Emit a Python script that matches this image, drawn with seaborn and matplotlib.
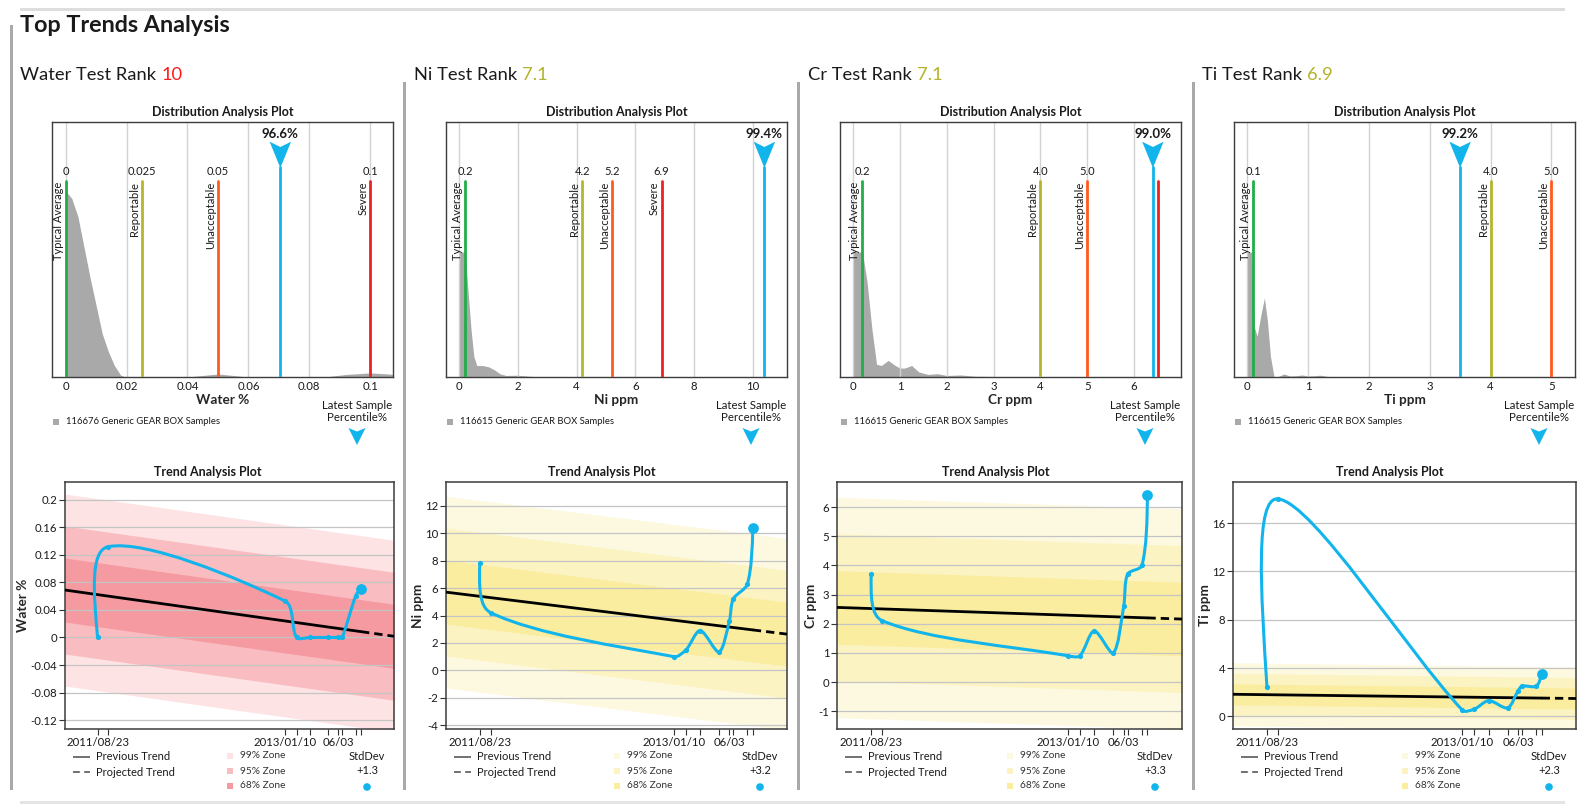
import numpy as np
import pandas as pd
import matplotlib
matplotlib.use("Agg")
import matplotlib.pyplot as plt
import matplotlib.dates as mdates
import matplotlib.transforms as mtransforms
from matplotlib.patches import Polygon, Rectangle, PathPatch, Circle
from matplotlib.path import Path
import seaborn as sns

# ------------------------------------------------------------------ data
sample_dates = ["2011-08-23", "2011-09-21", "2013-01-10", "2013-02-10", "2013-03-19",
                "2013-05-07", "2013-06-03", "2013-06-13", "2013-07-20", "2013-08-03"]
date_tick_labels = ["2011/08/23", "", "2013/01/10", "", "", "", "06/03", "", "", ""]
trend_days_before = 88
trend_days_after = 89

test_names = ["Water", "Ni", "Cr", "Ti"]
test_units = ["Water %", "Ni ppm", "Cr ppm", "Ti ppm"]
test_ranks = ["10", "7.1", "7.1", "6.9"]
sample_counts = ["116676", "116615", "116615", "116615"]
latest_percentiles = ["96.6%", "99.4%", "99.0%", "99.2%"]
latest_stddevs = ["+1.3", "+3.2", "+3.3", "+2.3"]

# sample history (trend plot)
water_values = [0.0, 0.132, 0.053, 0.0, 0.0, 0.0, 0.0, 0.0, 0.061, 0.0705]
ni_values = [7.8, 4.2, 1.0, 1.5, 2.9, 1.35, 3.6, 5.2, 6.3, 10.4]
cr_values = [3.7, 2.1, 0.9, 0.9, 1.75, 1.0, 2.6, 3.7, 4.0, 6.4]
ti_values = [2.4, 18.0, 0.5, 0.6, 1.3, 0.7, 2.1, 2.5, 2.5, 3.5]

# trend value at first / last sample date and zone standard deviation
water_trend = [0.0623, 0.0085]
ni_trend = [5.40, 2.95]
cr_trend = [2.52, 2.20]
ti_trend = [1.79, 1.51]
water_sd, ni_sd, cr_sd, ti_sd = 0.0465, 2.33, 1.26, 0.87

# limits (distribution plot)
water_thr_values = [0, 0.025, 0.05, 0.1]
water_thr_kinds = ["typical", "reportable", "unacceptable", "severe"]
water_thr_labels = ["Typical Average", "Reportable", "Unacceptable", "Severe"]
water_thr_texts = ["0", "0.025", "0.05", "0.1"]

ni_thr_values = [0.2, 4.2, 5.2, 6.9]
ni_thr_kinds = ["typical", "reportable", "unacceptable", "severe"]
ni_thr_labels = ["Typical Average", "Reportable", "Unacceptable", "Severe"]
ni_thr_texts = ["0.2", "4.2", "5.2", "6.9"]

cr_thr_values = [0.2, 4.0, 5.0, 6.5]
cr_thr_kinds = ["typical", "reportable", "unacceptable", "severe"]
cr_thr_labels = ["Typical Average", "Reportable", "Unacceptable", ""]
cr_thr_texts = ["0.2", "4.0", "5.0", ""]

ti_thr_values = [0.1, 4.0, 5.0]
ti_thr_kinds = ["typical", "reportable", "unacceptable"]
ti_thr_labels = ["Typical Average", "Reportable", "Unacceptable"]
ti_thr_texts = ["0.1", "4.0", "5.0"]

# population density profiles (relative height)
water_dens_x = [0, 0.002, 0.004, 0.006, 0.008, 0.010, 0.012, 0.014, 0.016, 0.018, 0.0195,
                0.040, 0.045, 0.050, 0.055, 0.060, 0.085, 0.092, 0.100, 0.106, 0.1075]
water_dens_h = [0.73, 0.70, 0.63, 0.51, 0.39, 0.28, 0.17, 0.10, 0.045, 0.008, 0,
                0, 0.006, 0.012, 0.006, 0, 0, 0.010, 0.016, 0.012, 0.010]
ni_dens_x = [0, 0.2, 0.3, 0.4, 0.5, 0.6, 0.8, 1.0, 1.2, 1.4, 1.6, 2.0, 2.4, 2.8]
ni_dens_h = [0.49, 0.49, 0.34, 0.19, 0.08, 0.045, 0.045, 0.04, 0.028, 0.012, 0.006, 0.007, 0.003, 0]
cr_dens_x = [0, 0.2, 0.3, 0.4, 0.5, 0.6, 0.75, 0.9, 1.0, 1.1, 1.25, 1.4, 1.6, 1.8, 2.0, 2.3, 2.6, 3.0, 3.5]
cr_dens_h = [0.49, 0.49, 0.37, 0.19, 0.05, 0.045, 0.065, 0.045, 0.035, 0.035, 0.045, 0.02,
             0.01, 0.013, 0.006, 0.008, 0.003, 0.002, 0]
ti_dens_x = [0, 0.07, 0.11, 0.16, 0.22, 0.28, 0.33, 0.38, 0.44, 0.52, 0.6, 0.7, 0.8, 0.9,
             1.0, 1.1, 1.2, 1.3, 1.4]
ti_dens_h = [0.49, 0.49, 0.2, 0.16, 0.24, 0.31, 0.22, 0.08, 0.0, 0.003, 0.012, 0.004,
             0.005, 0.008, 0.004, 0.005, 0.007, 0.003, 0]

# axis scales
water_dist_xlim = [-0.0045, 0.1075]
water_dist_ticks = [0, 0.02, 0.04, 0.06, 0.08, 0.1]
water_dist_ticklabels = ["0", "0.02", "0.04", "0.06", "0.08", "0.1"]
ni_dist_xlim = [-0.45, 11.17]
ni_dist_ticks = [0, 2, 4, 6, 8, 10]
ni_dist_ticklabels = ["0", "2", "4", "6", "8", "10"]
cr_dist_xlim = [-0.28, 7.0]
cr_dist_ticks = [0, 1, 2, 3, 4, 5, 6]
cr_dist_ticklabels = ["0", "1", "2", "3", "4", "5", "6"]
ti_dist_xlim = [-0.22, 5.39]
ti_dist_ticks = [0, 1, 2, 3, 4, 5]
ti_dist_ticklabels = ["0", "1", "2", "3", "4", "5"]

water_trend_ylim = [-0.133, 0.226]
water_trend_yticks = [-0.12, -0.08, -0.04, 0, 0.04, 0.08, 0.12, 0.16, 0.2]
water_trend_yticklabels = ["-0.12", "-0.08", "-0.04", "0", "0.04", "0.08", "0.12", "0.16", "0.2"]
ni_trend_ylim = [-4.27, 13.73]
ni_trend_yticks = [-4, -2, 0, 2, 4, 6, 8, 10, 12]
ni_trend_yticklabels = ["-4", "-2", "0", "2", "4", "6", "8", "10", "12"]
cr_trend_ylim = [-1.61, 6.86]
cr_trend_yticks = [-1, 0, 1, 2, 3, 4, 5, 6]
cr_trend_yticklabels = ["-1", "0", "1", "2", "3", "4", "5", "6"]
ti_trend_ylim = [-1.05, 19.4]
ti_trend_yticks = [0, 4, 8, 12, 16]
ti_trend_yticklabels = ["0", "4", "8", "12", "16"]

zone_labels = ["99% Zone", "95% Zone", "68% Zone"]
zone_multipliers = [3, 2, 1]

# ------------------------------------------------------------------ styles
BLUE = "#12b4ec"
THR_COLORS = {"typical": "#1fae48", "reportable": "#b5b52e",
              "unacceptable": "#ff5b1e", "severe": "#ee2121"}
RANK_COLORS = ["#ff1a1a", "#b3b32d", "#b3b32d", "#b3b32d"]
PINK = ["#fde3e3", "#f9bcc0", "#f59aa0"]
YELLOW = ["#fdf9e1", "#fcf3c3", "#faed9f"]
ZONE_SETS = [PINK, YELLOW, YELLOW, YELLOW]

panels = [
    dict(values=water_values, trend=water_trend, sd=water_sd, dens_x=water_dens_x, dens_h=water_dens_h,
         dxlim=water_dist_xlim, dticks=water_dist_ticks, dtl=water_dist_ticklabels,
         tv=water_thr_values, tk=water_thr_kinds, tl=water_thr_labels, tt=water_thr_texts,
         ylim=water_trend_ylim, yticks=water_trend_yticks, ytl=water_trend_yticklabels),
    dict(values=ni_values, trend=ni_trend, sd=ni_sd, dens_x=ni_dens_x, dens_h=ni_dens_h,
         dxlim=ni_dist_xlim, dticks=ni_dist_ticks, dtl=ni_dist_ticklabels,
         tv=ni_thr_values, tk=ni_thr_kinds, tl=ni_thr_labels, tt=ni_thr_texts,
         ylim=ni_trend_ylim, yticks=ni_trend_yticks, ytl=ni_trend_yticklabels),
    dict(values=cr_values, trend=cr_trend, sd=cr_sd, dens_x=cr_dens_x, dens_h=cr_dens_h,
         dxlim=cr_dist_xlim, dticks=cr_dist_ticks, dtl=cr_dist_ticklabels,
         tv=cr_thr_values, tk=cr_thr_kinds, tl=cr_thr_labels, tt=cr_thr_texts,
         ylim=cr_trend_ylim, yticks=cr_trend_yticks, ytl=cr_trend_yticklabels),
    dict(values=ti_values, trend=ti_trend, sd=ti_sd, dens_x=ti_dens_x, dens_h=ti_dens_h,
         dxlim=ti_dist_xlim, dticks=ti_dist_ticks, dtl=ti_dist_ticklabels,
         tv=ti_thr_values, tk=ti_thr_kinds, tl=ti_thr_labels, tt=ti_thr_texts,
         ylim=ti_trend_ylim, yticks=ti_trend_yticks, ytl=ti_trend_yticklabels),
]

# ------------------------------------------------------------------ layout
W, H, DPI = 1580, 808, 100
DIST_LEFTS = [52, 446, 840, 1234]
DIST_W = 341
DIST_TOP, DIST_BOT = 122, 377
TREND_BOXES = [(65, 394), (446, 787), (837, 1182), (1233, 1576)]
TREND_TOP, TREND_BOT = 482, 729

FS_TICK = 8.2
FS_SMALL = 8

sns.set_theme(style="white")
plt.rcParams["font.family"] = ["Lato", "DejaVu Sans"]
plt.rcParams["text.color"] = "#1a1a1a"
plt.rcParams["xtick.color"] = "#1a1a1a"
plt.rcParams["ytick.color"] = "#1a1a1a"

fig = plt.figure(figsize=(W / DPI, H / DPI), dpi=DPI)
fig.patch.set_facecolor("white")
bg = fig.add_axes([0, 0, 1, 1], zorder=10)
bg.set_xlim(0, W)
bg.set_ylim(H, 0)
bg.axis("off")


def px_axes(l, t, r, b):
    return fig.add_axes([l / W, 1 - b / H, (r - l) / W, (b - t) / H])


def btext(x, y, s, **kw):
    kw.setdefault("va", "center")
    return bg.text(x, y, s, **kw)


def spline_path(xs, ys, xlim, ylim, wpx, hpx, t=0.3):
    """Bezier spline through the samples; control points are derived in pixel space."""
    px = (np.asarray(xs, float) - xlim[0]) / (xlim[1] - xlim[0]) * wpx
    py = (np.asarray(ys, float) - ylim[0]) / (ylim[1] - ylim[0]) * hpx
    P = np.column_stack([px, py])
    n = len(P)
    prev_cp = P.copy()
    next_cp = P.copy()
    for i in range(1, n - 1):
        d01 = np.hypot(*(P[i] - P[i - 1]))
        d12 = np.hypot(*(P[i + 1] - P[i]))
        tot = d01 + d12 if d01 + d12 > 0 else 1.0
        span = P[i + 1] - P[i - 1]
        prev_cp[i] = P[i] - t * (d01 / tot) * span
        next_cp[i] = P[i] + t * (d12 / tot) * span
    # natural ends
    m1 = 3 * (P[1] - prev_cp[1])
    m0 = (3 * (P[1] - P[0]) - m1) / 2.0
    next_cp[0] = P[0] + m0 / 3.0
    mp = 3 * (next_cp[n - 2] - P[n - 2])
    me = (3 * (P[n - 1] - P[n - 2]) - mp) / 2.0
    prev_cp[n - 1] = P[n - 1] - me / 3.0
    verts = [P[0]]
    codes = [Path.MOVETO]
    for i in range(n - 1):
        verts.extend([next_cp[i], prev_cp[i + 1], P[i + 1]])
        codes.extend([Path.CURVE4] * 3)
    V = np.array(verts)
    V[:, 0] = V[:, 0] / wpx * (xlim[1] - xlim[0]) + xlim[0]
    V[:, 1] = V[:, 1] / hpx * (ylim[1] - ylim[0]) + ylim[0]
    return Path(V, codes)


# frame decorations
bg.add_patch(Rectangle((20, 7.5), 1545, 3, color="#dddddd", lw=0))
bg.add_patch(Rectangle((20, 801), 1545, 3, color="#e4e4e4", lw=0))
bg.add_patch(Rectangle((9.5, 25), 3, 765, color="#a9a9a9", lw=0))
for xb in [403, 797, 1192]:
    bg.add_patch(Rectangle((xb, 82), 3, 708, color="#a9a9a9", lw=0))
btext(20, 25, "Top Trends Analysis", fontsize=16.8, fontweight="bold")

dnum = mdates.date2num(pd.to_datetime(sample_dates))
tx0, tx1 = dnum[0] - trend_days_before, dnum[-1] + trend_days_after

title_texts = []
for i, p in enumerate(panels):
    dl = DIST_LEFTS[i]
    dr = dl + DIST_W
    dc = (dl + dr) / 2
    zone_colors = ZONE_SETS[i]

    title_texts.append(btext(dl - 31.5, 75, f"{test_names[i]} Test Rank", fontsize=13.2))

    # ---------------- distribution plot
    btext(dc, 112, "Distribution Analysis Plot", ha="center", fontsize=9, fontweight="bold")
    axd = px_axes(dl, DIST_TOP, dr, DIST_BOT)
    axd.fill_between(p["dens_x"], 0, p["dens_h"], color="#a9a9a9", lw=0, zorder=1)
    axd.set_xlim(p["dxlim"])
    axd.set_ylim(0, 1)
    axd.set_xticks(p["dticks"])
    axd.set_xticklabels(p["dtl"])
    axd.set_yticks([])
    axd.grid(axis="x", color="#d2d2d2", lw=1.0)
    axd.grid(axis="y", visible=False)
    axd.set_axisbelow("line")
    axd.tick_params(axis="x", length=0, pad=3, labelsize=FS_TICK)
    axd.set_xlabel(test_units[i], fontsize=9.8, fontweight="bold", labelpad=1.5)
    for sp in axd.spines.values():
        sp.set_visible(True)
        sp.set_color("#3c3c3c")
        sp.set_linewidth(1.0)
    blend = mtransforms.blended_transform_factory(axd.transData, axd.transAxes)
    lab_tr = mtransforms.offset_copy(blend, fig=fig, x=-2, y=0, units="dots")
    for v, kind, lab, txt in zip(p["tv"], p["tk"], p["tl"], p["tt"]):
        axd.axvline(v, 0, 0.7686, color=THR_COLORS[kind], lw=2.0, zorder=3)
        if txt:
            axd.text(v, 0.804, txt, transform=blend, ha="center", va="center", fontsize=FS_SMALL, zorder=4)
        if lab:
            axd.text(v, 0.765, lab, transform=lab_tr, rotation=90, ha="right", va="top",
                     fontsize=FS_SMALL, zorder=4)
    latest = p["values"][-1]
    axd.axvline(latest, 0, 0.824, color=BLUE, lw=2.0, zorder=3)
    xf = (latest - p["dxlim"][0]) / (p["dxlim"][1] - p["dxlim"][0])
    hw = 10.7 / DIST_W
    axd.add_patch(Polygon([(xf - hw, 0.9227), (xf, 0.902), (xf + hw, 0.9227), (xf, 0.820)],
                          closed=True, transform=axd.transAxes, color=BLUE, lw=0, zorder=4))
    axd.text(latest, 0.953, latest_percentiles[i], transform=blend, ha="center", va="center",
             fontsize=9.5, fontweight="bold", zorder=4)

    bg.add_patch(Rectangle((dl + 0.7, 418.5), 6.6, 6.6, color="#a9a9a9", lw=0))
    btext(dl + 14, 422, f"{sample_counts[i]} Generic GEAR BOX Samples", fontsize=6.8)
    ax_ = dr - 36
    btext(ax_, 411.5, "Latest Sample\nPercentile%", ha="center", fontsize=8.3, linespacing=1.15)
    bg.add_patch(Polygon([(ax_ - 8.5, 428), (ax_, 431.5), (ax_ + 8.5, 428), (ax_, 445)],
                         closed=True, color=BLUE, lw=0))

    # ---------------- trend plot
    tl, tr_ = TREND_BOXES[i]
    tc = (tl + tr_) / 2
    btext(dc - 14.5, 472, "Trend Analysis Plot", ha="center", fontsize=9, fontweight="bold")
    axt = px_axes(tl, TREND_TOP, tr_, TREND_BOT)
    slope = (p["trend"][1] - p["trend"][0]) / (dnum[-1] - dnum[0])

    def tval(x, p=p, slope=slope):
        return p["trend"][0] + slope * (np.asarray(x, float) - dnum[0])

    xs = np.array([tx0, tx1])
    for k, col in zip(zone_multipliers, zone_colors):
        axt.fill_between(xs, tval(xs) - k * p["sd"], tval(xs) + k * p["sd"], color=col, lw=0, zorder=1)
    sns.lineplot(x=[tx0, dnum[-1]], y=tval([tx0, dnum[-1]]), color="black", lw=2.0, ax=axt, zorder=3)
    sns.lineplot(x=[dnum[-1], tx1], y=tval([dnum[-1], tx1]), color="black", lw=2.0,
                 linestyle=(0, (3, 1.8)), ax=axt, zorder=3)
    path = spline_path(dnum, p["values"], (tx0, tx1), p["ylim"], tr_ - tl, TREND_BOT - TREND_TOP)
    axt.add_patch(PathPatch(path, fill=False, edgecolor=BLUE, lw=2.2, zorder=4,
                            capstyle="round", joinstyle="round"))
    sns.scatterplot(x=dnum[:-1], y=p["values"][:-1], s=14, color=BLUE, linewidth=0, ax=axt, zorder=5)
    sns.scatterplot(x=dnum[-1:], y=p["values"][-1:], s=60, color=BLUE, linewidth=0, ax=axt, zorder=5)
    axt.set_xlim(tx0, tx1)
    axt.set_ylim(p["ylim"])
    axt.set_xticks(dnum)
    axt.set_xticklabels(date_tick_labels)
    axt.set_yticks(p["yticks"])
    axt.set_yticklabels(p["ytl"])
    axt.tick_params(axis="both", length=4, width=0.8, color="#333333", labelsize=FS_TICK, pad=1.5,
                    bottom=True, left=True)
    axt.grid(axis="y", color="#c4c4c4", lw=0.9)
    axt.grid(axis="x", visible=False)
    axt.set_axisbelow("line")
    axt.set_xlabel("")
    axt.set_ylabel(test_units[i], fontsize=9.8, fontweight="bold", labelpad=1)
    for sp in axt.spines.values():
        sp.set_visible(True)
        sp.set_color("#3c3c3c")
        sp.set_linewidth(1.1)

    # trend legend
    bg.plot([tl + 8, tl + 25], [757, 757], color="#666666", lw=1.3, solid_capstyle="butt")
    btext(tl + 31, 757, "Previous Trend", fontsize=8)
    bg.plot([tl + 8, tl + 25], [772, 772], color="#666666", lw=1.3, linestyle=(0, (3.8, 2.4)))
    btext(tl + 31, 772, "Projected Trend", fontsize=8)
    for j, (lab, col) in enumerate(zip(zone_labels, zone_colors)):
        yy = 756 + 15 * j
        bg.add_patch(Rectangle((tc - 2.5, yy - 3), 6, 6, color=col, lw=0))
        btext(tc + 10.5, yy, lab, fontsize=7.3, color="#333333")
    btext(tr_ - 27, 756, "StdDev", ha="center", fontsize=8)
    btext(tr_ - 27, 771, latest_stddevs[i], ha="center", fontsize=8)
    bg.add_patch(Circle((tr_ - 27, 787), 3.8, color=BLUE, lw=0))

# coloured rank numbers after the panel titles
fig.canvas.draw()
renderer = fig.canvas.get_renderer()
for i, t in enumerate(title_texts):
    bb = t.get_window_extent(renderer)
    btext(bb.x1 + 4.5, 75, test_ranks[i], fontsize=13.2, color=RANK_COLORS[i])

fig.savefig("out.png", dpi=DPI, facecolor="white")
